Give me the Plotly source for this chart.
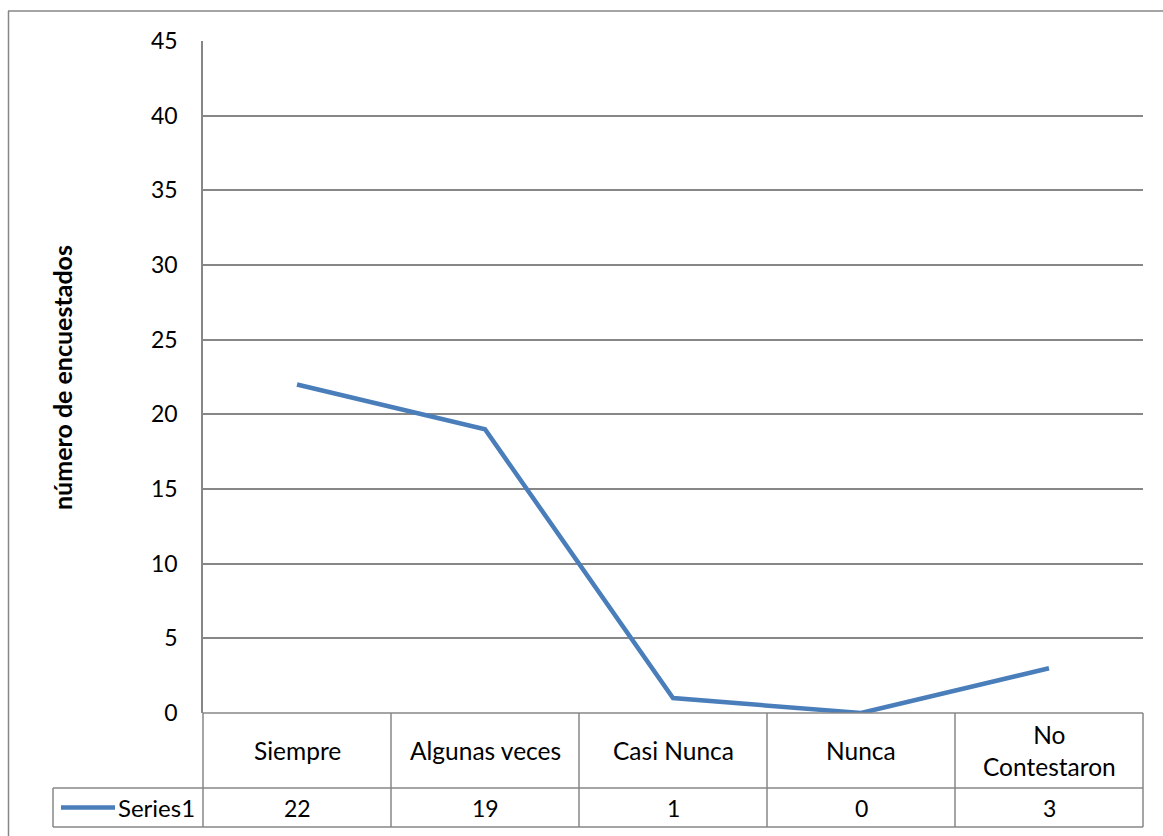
import plotly.graph_objects as go

categories = ["Siempre", "Algunas veces", "Casi Nunca", "Nunca", "No<br>Contestaron"]
values = [22, 19, 1, 0, 3]
series_name = "Series1"
y_title = "número de encuestados"
y_ticks = [0, 5, 10, 15, 20, 25, 30, 35, 40, 45]

W, H = 1163, 836
FONT = "Lato, 'Open Sans', sans-serif"
GRID = "#878787"
LINE = "#4A7EBB"

# layout geometry in pixels
x0, x1 = 203, 1143
y_top, y_zero = 41, 713
row1, row2 = 788, 827
leg_left = 53
ncol = len(categories)
colw = (x1 - x0) / ncol

def px(x):
    return x / W

def py(y):
    return 1 - y / H

fig = go.Figure()
fig.add_trace(go.Scatter(
    x=list(range(ncol)), y=values, mode="lines",
    line=dict(color=LINE, width=4.5),
    name=series_name, showlegend=False,
))

shapes = []
def hline(xa, xb, y):
    shapes.append(dict(type="line", xref="paper", yref="paper",
                       x0=px(xa), x1=px(xb), y0=py(y), y1=py(y),
                       line=dict(color=GRID, width=1.5)))
def vline(x, ya, yb):
    shapes.append(dict(type="line", xref="paper", yref="paper",
                       x0=px(x), x1=px(x), y0=py(ya), y1=py(yb),
                       line=dict(color=GRID, width=1.5)))

# outer chart border
hline(8, W + 5, 11)
vline(8.5, 11, H + 5)
# data table
hline(x0, x1, y_zero)
hline(leg_left, x1, row1)
hline(leg_left, x1, row2)
vline(leg_left, row1, row2)
for i in range(ncol + 1):
    vline(x0 + i * colw, y_zero, row2)
# legend key line
shapes.append(dict(type="line", xref="paper", yref="paper",
                   x0=px(61), x1=px(115), y0=py(807.5), y1=py(807.5),
                   line=dict(color=LINE, width=4.5)))

annotations = []
for i, (c, v) in enumerate(zip(categories, values)):
    cx = x0 + (i + 0.5) * colw
    annotations.append(dict(text=c, x=px(cx), y=py((y_zero + row1) / 2),
                            xref="paper", yref="paper", showarrow=False,
                            font=dict(family=FONT, size=24.5, color="#000"),
                            xanchor="center", yanchor="middle"))
    annotations.append(dict(text=str(v), x=px(cx), y=py((row1 + row2) / 2),
                            xref="paper", yref="paper", showarrow=False,
                            font=dict(family=FONT, size=23, color="#000"),
                            xanchor="center", yanchor="middle"))
annotations.append(dict(text=series_name, x=px(116), y=py((row1 + row2) / 2),
                        xref="paper", yref="paper", showarrow=False,
                        font=dict(family=FONT, size=24, color="#000"),
                        xanchor="left", yanchor="middle"))
annotations.append(dict(text="<b>" + y_title + "</b>", x=px(62), y=py(378),
                        xref="paper", yref="paper", showarrow=False, textangle=-90,
                        font=dict(family=FONT, size=25, color="#000"),
                        xanchor="center", yanchor="middle"))

fig.update_layout(
    width=W, height=H,
    margin=dict(l=0, r=0, t=0, b=0, pad=0, autoexpand=False),
    paper_bgcolor="white", plot_bgcolor="white",
    shapes=shapes, annotations=annotations,
    xaxis=dict(domain=[px(x0), px(x1)], range=[-0.5, ncol - 0.5],
               showgrid=False, showticklabels=False, zeroline=False,
               showline=False, ticks="", automargin=False),
    yaxis=dict(domain=[py(y_zero), py(y_top)], range=[0, 45],
               tickvals=y_ticks, showgrid=True, gridcolor=GRID, gridwidth=1.5,
               zeroline=False, showline=True, linecolor=GRID, linewidth=1.5,
               ticks="", ticklabelstandoff=19, automargin=False,
               tickfont=dict(family=FONT, size=23, color="#000")),
)

post = "document.body.style.margin='0';document.body.style.overflow='hidden';"
fig.write_html("out.html", config={"displayModeBar": False}, post_script=post)
